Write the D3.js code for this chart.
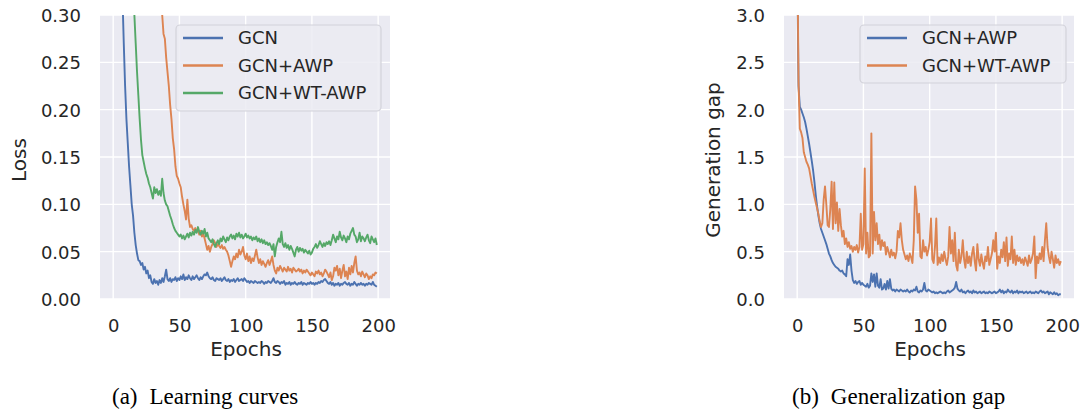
<!DOCTYPE html>
<html>
<head>
<meta charset="utf-8">
<script src="https://cdn.jsdelivr.net/npm/d3@7"></script>
<style>
  html, body { margin: 0; padding: 0; background: #ffffff; }
  svg { display: block; }
</style>
</head>
<body>
<svg id="chart" width="1086" height="411"></svg>
<script>
// ---------------- data ----------------
const epochs = d3.range(0, 200);
const xTicks = [0, 50, 100, 150, 200];
const lossTicks = [0.00, 0.05, 0.10, 0.15, 0.20, 0.25, 0.30];
const gapTicks = [0.0, 0.5, 1.0, 1.5, 2.0, 2.5, 3.0];

const lossSeriesNames = ["GCN", "GCN+AWP", "GCN+WT-AWP"];
const gapSeriesNames = ["GCN+AWP", "GCN+WT-AWP"];

// (a) Learning curves
const lossGCN = [
  0.90,0.80,0.70,0.60,0.52,0.45,0.38,0.32,0.27,0.225,
  0.19,0.165,0.14,0.12,0.10,0.088,0.070,0.057,0.048,0.041,
  0.040,0.036,0.038,0.031,0.034,0.027,0.030,0.022,0.025,0.018,
  0.016,0.021,0.017,0.019,0.015,0.020,0.017,0.022,0.018,0.024,
  0.031,0.021,0.019,0.022,0.018,0.021,0.020,0.023,0.019,0.022,
  0.020,0.024,0.021,0.026,0.020,0.023,0.021,0.025,0.022,0.020,
  0.024,0.021,0.023,0.025,0.022,0.020,0.023,0.021,0.024,0.026,
  0.025,0.028,0.024,0.022,0.021,0.023,0.020,0.019,0.022,0.021,
  0.020,0.022,0.019,0.021,0.023,0.020,0.019,0.021,0.018,0.020,
  0.019,0.021,0.018,0.020,0.022,0.019,0.020,0.021,0.019,0.022,
  0.020,0.018,0.019,0.017,0.019,0.018,0.017,0.019,0.018,0.017,
  0.018,0.017,0.019,0.018,0.016,0.018,0.017,0.019,0.018,0.017,
  0.019,0.022,0.018,0.017,0.019,0.018,0.016,0.018,0.017,0.019,
  0.015,0.017,0.016,0.018,0.015,0.017,0.016,0.018,0.016,0.015,
  0.017,0.016,0.018,0.015,0.017,0.016,0.015,0.017,0.016,0.018,
  0.016,0.017,0.015,0.017,0.016,0.018,0.017,0.019,0.018,0.020,
  0.021,0.019,0.017,0.016,0.018,0.015,0.017,0.014,0.016,0.015,
  0.017,0.014,0.016,0.015,0.017,0.018,0.016,0.015,0.017,0.014,
  0.016,0.015,0.018,0.016,0.014,0.016,0.015,0.017,0.015,0.016,
  0.014,0.016,0.015,0.017,0.016,0.015,0.018,0.015,0.014,0.013
];
const lossAWP = [
  1.60,1.45,1.32,1.21,1.11,1.03,0.96,0.90,0.85,0.80,
  0.76,0.72,0.68,0.65,0.62,0.59,0.56,0.54,0.52,0.50,
  0.48,0.46,0.445,0.43,0.415,0.40,0.39,0.38,0.37,0.36,
  0.35,0.34,0.335,0.33,0.325,0.32,0.31,0.30,0.28,0.275,
  0.255,0.24,0.225,0.205,0.19,0.17,0.158,0.14,0.13,0.127,
  0.122,0.118,0.108,0.100,0.093,0.084,0.105,0.085,0.076,0.078,
  0.074,0.072,0.075,0.071,0.073,0.068,0.072,0.066,0.069,0.064,
  0.058,0.052,0.056,0.050,0.055,0.058,0.062,0.059,0.055,0.058,
  0.056,0.054,0.057,0.053,0.055,0.052,0.050,0.046,0.040,0.034,
  0.040,0.045,0.042,0.048,0.044,0.052,0.047,0.050,0.055,0.046,
  0.042,0.048,0.040,0.045,0.038,0.043,0.040,0.046,0.052,0.044,
  0.038,0.042,0.036,0.040,0.037,0.034,0.038,0.041,0.036,0.040,
  0.045,0.036,0.030,0.027,0.033,0.030,0.035,0.032,0.029,0.033,
  0.031,0.029,0.034,0.030,0.032,0.028,0.033,0.031,0.029,0.030,
  0.032,0.029,0.031,0.027,0.030,0.028,0.031,0.029,0.027,0.025,
  0.028,0.026,0.024,0.029,0.027,0.030,0.026,0.028,0.024,0.027,
  0.031,0.029,0.026,0.023,0.028,0.020,0.024,0.033,0.030,0.035,
  0.025,0.032,0.022,0.030,0.036,0.024,0.029,0.021,0.033,0.026,
  0.035,0.028,0.038,0.045,0.030,0.026,0.028,0.024,0.029,0.026,
  0.023,0.027,0.025,0.021,0.024,0.022,0.026,0.025,0.028,0.027
];
const lossWTAWP = [
  1.30,1.15,1.00,0.90,0.80,0.72,0.65,0.59,0.54,0.49,
  0.46,0.43,0.40,0.37,0.34,0.32,0.30,0.27,0.24,0.215,
  0.19,0.168,0.152,0.145,0.138,0.132,0.128,0.122,0.118,0.112,
  0.106,0.118,0.112,0.116,0.110,0.114,0.109,0.127,0.112,0.104,
  0.100,0.098,0.093,0.088,0.084,0.079,0.075,0.072,0.070,0.068,
  0.066,0.068,0.064,0.067,0.063,0.066,0.069,0.065,0.070,0.067,
  0.071,0.068,0.073,0.070,0.076,0.071,0.068,0.072,0.069,0.074,
  0.066,0.070,0.064,0.062,0.060,0.063,0.058,0.055,0.059,0.062,
  0.058,0.064,0.061,0.066,0.063,0.060,0.065,0.062,0.066,0.068,
  0.064,0.067,0.063,0.069,0.066,0.070,0.065,0.068,0.064,0.066,
  0.069,0.065,0.067,0.064,0.066,0.062,0.065,0.063,0.066,0.061,
  0.064,0.060,0.063,0.059,0.062,0.058,0.060,0.057,0.059,0.056,
  0.052,0.058,0.045,0.055,0.060,0.064,0.060,0.071,0.058,0.055,
  0.059,0.054,0.057,0.052,0.056,0.053,0.049,0.045,0.052,0.055,
  0.050,0.054,0.051,0.053,0.049,0.052,0.050,0.048,0.051,0.047,
  0.049,0.053,0.055,0.058,0.054,0.057,0.061,0.058,0.055,0.059,
  0.056,0.060,0.058,0.061,0.057,0.062,0.068,0.064,0.060,0.066,
  0.063,0.071,0.065,0.062,0.067,0.064,0.060,0.066,0.063,0.069,
  0.072,0.075,0.068,0.066,0.060,0.063,0.070,0.061,0.066,0.064,
  0.061,0.065,0.068,0.062,0.059,0.066,0.063,0.060,0.064,0.057
];

// (b) Generalization gap
const gapAWP = [
  3.6,2.25,2.03,2.0,1.96,1.92,1.87,1.80,1.72,1.64,
  1.55,1.46,1.36,1.24,1.10,0.98,0.88,0.80,0.74,0.70,
  0.66,0.62,0.58,0.53,0.48,0.45,0.41,0.38,0.36,0.34,
  0.33,0.32,0.30,0.29,0.30,0.27,0.26,0.24,0.42,0.36,
  0.47,0.30,0.20,0.17,0.19,0.16,0.18,0.19,0.15,0.17,
  0.15,0.14,0.13,0.16,0.12,0.14,0.27,0.18,0.26,0.13,
  0.27,0.14,0.12,0.21,0.10,0.11,0.16,0.10,0.19,0.11,
  0.21,0.11,0.09,0.10,0.08,0.10,0.09,0.08,0.10,0.09,
  0.08,0.09,0.08,0.10,0.08,0.07,0.09,0.08,0.10,0.09,
  0.13,0.08,0.07,0.09,0.08,0.10,0.17,0.09,0.08,0.10,
  0.09,0.08,0.07,0.08,0.06,0.07,0.06,0.07,0.08,0.07,
  0.06,0.07,0.06,0.08,0.09,0.07,0.08,0.09,0.10,0.12,
  0.18,0.11,0.09,0.08,0.10,0.07,0.08,0.06,0.08,0.09,
  0.07,0.08,0.06,0.09,0.07,0.08,0.06,0.07,0.08,0.06,
  0.07,0.08,0.06,0.07,0.06,0.08,0.07,0.06,0.07,0.08,
  0.06,0.07,0.08,0.10,0.07,0.09,0.06,0.08,0.07,0.10,
  0.08,0.07,0.09,0.06,0.08,0.07,0.09,0.06,0.08,0.07,
  0.08,0.06,0.07,0.08,0.06,0.07,0.08,0.06,0.07,0.06,
  0.08,0.07,0.06,0.08,0.09,0.07,0.08,0.06,0.07,0.08,
  0.05,0.07,0.06,0.05,0.07,0.05,0.06,0.04,0.05,0.05
];
const gapWTAWP = [
  3.9,2.3,1.80,1.76,1.70,1.55,1.50,1.45,1.42,1.38,
  1.30,1.22,1.15,1.08,1.02,0.96,0.90,0.82,0.76,0.80,
  1.05,1.19,1.00,0.78,0.76,0.95,1.24,0.74,1.23,0.80,
  1.02,0.72,0.95,0.78,0.66,0.72,0.58,0.64,0.55,0.60,
  0.53,0.56,0.50,0.55,0.52,0.57,0.49,0.55,0.90,0.52,
  0.58,1.38,0.48,0.70,0.44,0.46,1.75,0.48,0.92,0.62,
  0.80,0.58,0.68,0.52,0.62,0.56,0.60,0.47,0.55,0.50,
  0.44,0.52,0.46,0.49,0.43,0.50,0.72,0.65,0.80,0.62,
  0.52,0.47,0.42,0.46,0.40,0.48,0.44,0.38,0.62,1.19,
  1.05,0.70,0.90,0.45,0.43,0.62,0.50,0.55,0.46,0.52,
  0.60,0.85,0.42,0.38,0.55,0.85,0.36,0.44,0.38,0.47,
  0.40,0.50,0.42,0.36,0.45,0.76,0.48,0.62,0.40,0.70,
  0.36,0.30,0.52,0.38,0.45,0.62,0.42,0.33,0.50,0.38,
  0.45,0.35,0.48,0.55,0.40,0.30,0.58,0.42,0.35,0.47,
  0.38,0.32,0.45,0.40,0.55,0.36,0.42,0.48,0.62,0.50,
  0.70,0.32,0.45,0.38,0.52,0.44,0.60,0.40,0.65,0.35,
  0.48,0.42,0.66,0.38,0.52,0.36,0.46,0.40,0.44,0.38,
  0.42,0.36,0.44,0.40,0.35,0.46,0.38,0.42,0.48,0.66,
  0.22,0.45,0.38,0.48,0.42,0.55,0.40,0.62,0.80,0.55,
  0.45,0.38,0.50,0.42,0.33,0.46,0.38,0.42,0.36,0.40
];

const captions = ["(a)", "Learning curves", "(b)", "Generalization gap"];

// ---------------- drawing ----------------
const colors = ["#4C72B0", "#DD8452", "#55A868"];
const svg = d3.select("#chart");
const FONT = "'DejaVu Sans', Verdana, sans-serif";
const TXT = "#262626";

function panel(opts) {
  const { left, right, top, bottom, yDomain, yTicks, yFmt, ylabel, series, names, legend, id } = opts;
  const x = d3.scaleLinear().domain([-9.95, 208.95]).range([left, right]);
  const y = d3.scaleLinear().domain(yDomain).range([bottom, top]);
  const g = svg.append("g");

  g.append("rect").attr("x", left).attr("y", top)
    .attr("width", right - left).attr("height", bottom - top)
    .attr("fill", "#EAEAF2");

  // grid
  g.append("g").selectAll("line").data(xTicks).join("line")
    .attr("x1", d => x(d)).attr("x2", d => x(d))
    .attr("y1", top).attr("y2", bottom)
    .attr("stroke", "#ffffff").attr("stroke-width", 1.4);
  g.append("g").selectAll("line").data(yTicks).join("line")
    .attr("x1", left).attr("x2", right)
    .attr("y1", d => y(d)).attr("y2", d => y(d))
    .attr("stroke", "#ffffff").attr("stroke-width", 1.4);

  // axes (no domain, no tick marks; seaborn darkgrid style)
  const xAxis = d3.axisBottom(x).tickValues(xTicks).tickSize(0).tickPadding(0).tickFormat(d3.format("d"));
  const xg = g.append("g").attr("transform", `translate(0,${bottom})`).call(xAxis);
  xg.select(".domain").remove();
  xg.selectAll("text").attr("y", 0).attr("dy", null).attr("dominant-baseline", "auto")
    .attr("transform", "translate(0,33)")
    .style("font-family", FONT).style("font-size", "18px").attr("fill", TXT);

  const yAxis = d3.axisLeft(y).tickValues(yTicks).tickSize(0).tickPadding(19).tickFormat(d3.format(yFmt));
  const yg = g.append("g").attr("transform", `translate(${left},0)`).call(yAxis);
  yg.select(".domain").remove();
  yg.selectAll("text").attr("dy", "0.36em")
    .style("font-family", FONT).style("font-size", "18px").attr("fill", TXT);

  // axis titles
  g.append("text").attr("x", (left + right) / 2 + 1).attr("y", 356)
    .attr("text-anchor", "middle").style("font-family", FONT).style("font-size", "20px")
    .attr("fill", TXT).text("Epochs");
  g.append("text")
    .attr("transform", `translate(${opts.ylabelX},${(top + bottom) / 2 + 3}) rotate(-90)`)
    .attr("text-anchor", "middle").style("font-family", FONT).style("font-size", "20px")
    .attr("fill", TXT).text(ylabel);

  // lines
  svg.append("defs").append("clipPath").attr("id", id)
    .append("rect").attr("x", left).attr("y", top).attr("width", right - left).attr("height", bottom - top);
  const line = d3.line().x((d, i) => x(epochs[i])).y(d => y(d));
  const lg = g.append("g").attr("clip-path", `url(#${id})`);
  series.forEach((s, k) => {
    lg.append("path").datum(s).attr("d", line)
      .attr("fill", "none").attr("stroke", colors[k]).attr("stroke-width", 1.9)
      .attr("stroke-linejoin", "round").attr("stroke-linecap", "butt");
  });

  // legend
  const L = g.append("g");
  L.append("rect").attr("x", legend.x).attr("y", legend.y)
    .attr("width", legend.w).attr("height", legend.h).attr("rx", 4)
    .attr("fill", "#EBEBF2").attr("fill-opacity", 0.85)
    .attr("stroke", "#d2d2da").attr("stroke-width", 1.2);
  names.forEach((n, k) => {
    const yy = legend.y + 13 + k * 27.5;
    L.append("line").attr("x1", legend.x + 7).attr("x2", legend.x + 47)
      .attr("y1", yy).attr("y2", yy).attr("stroke", colors[k]).attr("stroke-width", 2.4);
    L.append("text").attr("x", legend.x + 62).attr("y", yy).attr("dy", "0.36em")
      .style("font-family", FONT).style("font-size", "18px").attr("fill", TXT).text(n);
  });
}

panel({
  id: "clipA", left: 100, right: 390, top: 15, bottom: 299,
  yDomain: [0, 0.3], yTicks: lossTicks, yFmt: ".2f", ylabel: "Loss", ylabelX: 26,
  series: [lossGCN, lossAWP, lossWTAWP], names: lossSeriesNames,
  legend: { x: 176, y: 25, w: 205, h: 86 }
});
panel({
  id: "clipB", left: 784, right: 1074, top: 15, bottom: 299,
  yDomain: [0, 3], yTicks: gapTicks, yFmt: ".1f", ylabel: "Generation gap", ylabelX: 720,
  series: [gapAWP, gapWTAWP], names: gapSeriesNames,
  legend: { x: 860, y: 25, w: 206, h: 58 }
});

// captions
const CAP = "'Liberation Serif', 'Times New Roman', serif";
[[112, 0], [792, 2]].forEach(([cx, k]) => {
  const t = svg.append("text").attr("x", cx).attr("y", 404)
    .style("font-family", CAP).style("font-size", "23px").attr("fill", "#000");
  t.append("tspan").text(captions[k]);
  t.append("tspan").attr("dx", "12").text(captions[k + 1]);
});
</script>
</body>
</html>
